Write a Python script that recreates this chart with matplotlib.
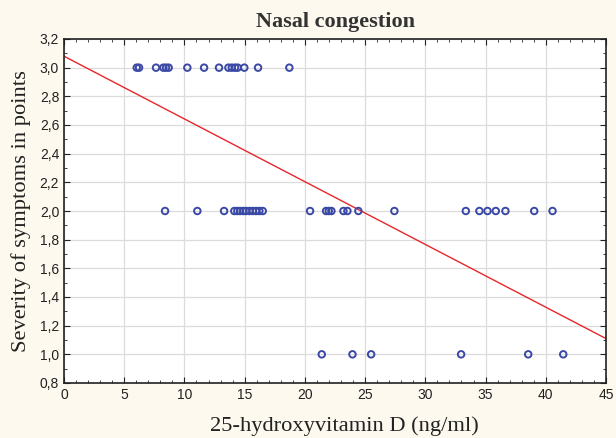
import matplotlib
matplotlib.use("Agg")
import matplotlib.pyplot as plt
from matplotlib.ticker import MultipleLocator, FuncFormatter
import numpy as np

# Data
x_score3 = [6.04, 6.23, 7.64, 8.25, 8.47, 8.69, 10.24, 11.63, 12.87, 13.65, 13.93, 14.2, 14.42, 14.97, 16.11, 18.71]
x_score2 = [8.39, 11.07, 13.29, 14.14, 14.39, 14.62, 14.89, 15.12, 15.39, 15.67, 15.95, 16.22, 16.5,
            20.43, 21.76, 21.98, 22.2, 23.2, 23.53, 24.44, 27.43,
            33.36, 34.49, 35.16, 35.85, 36.65, 39.04, 40.56]
x_score1 = [21.4, 23.95, 25.5, 32.97, 38.54, 41.45]
fit_x = [0, 45]
fit_y = [3.08, 1.11]

xs = x_score3 + x_score2 + x_score1
ys = [3.0] * len(x_score3) + [2.0] * len(x_score2) + [1.0] * len(x_score1)

fig = plt.figure(figsize=(6.16, 4.38), dpi=100, facecolor="#fdf9ee")
ax = fig.add_axes([64/616, 1-383/438, (606-64)/616, (383-39)/438])
ax.set_facecolor("white")

ax.grid(True, color="#dcdcdc", linewidth=0.9, zorder=0)
ax.plot(fit_x, fit_y, color="#e8262a", linewidth=1.0, zorder=2)
ax.scatter(xs, ys, s=22, facecolors="none", edgecolors="#3a48a6", linewidths=1.4, zorder=3)

ax.set_xlim(0, 45)
ax.set_ylim(0.8, 3.2)
ax.xaxis.set_major_locator(MultipleLocator(5))
ax.xaxis.set_minor_locator(MultipleLocator(1))
ax.yaxis.set_major_locator(MultipleLocator(0.2))
ax.yaxis.set_minor_locator(MultipleLocator(0.1))
ax.yaxis.set_major_formatter(FuncFormatter(lambda v, p: f"{v:.1f}".replace(".", ",")))
ax.tick_params(which="both", direction="in", top=True, right=True, color="#222222")
ax.tick_params(which="major", length=4, width=0.8, labelsize=10)
ax.tick_params(which="minor", length=2, width=0.6)
for lab in ax.get_xticklabels() + ax.get_yticklabels():
    lab.set_fontfamily("Liberation Sans")
    lab.set_color("#222222")
for sp in ax.spines.values():
    sp.set_color("#222222")
    sp.set_linewidth(1.2)

ax.set_title("Nasal congestion", fontfamily="Liberation Serif", fontweight="bold",
             fontsize=16, color="#333333", pad=9)
ax.set_xlabel("25-hydroxyvitamin D (ng/ml)", fontfamily="Liberation Serif", fontsize=16.2,
              color="#222222")
ax.xaxis.set_label_coords((344 - 64) / 542, -0.098)
ax.set_ylabel("Severity of symptoms in points", fontfamily="Liberation Serif", fontsize=16.2,
              color="#222222", labelpad=6)

fig.savefig("out.png", dpi=100, facecolor=fig.get_facecolor())
